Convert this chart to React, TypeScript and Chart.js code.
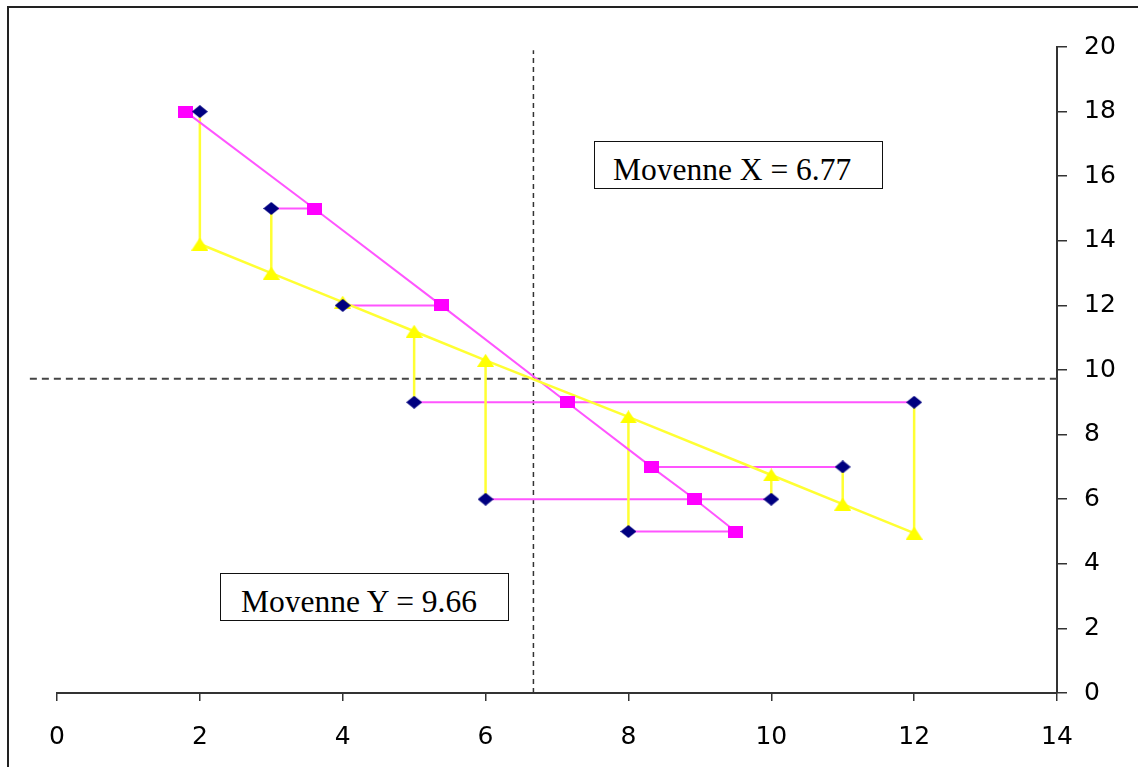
import React, { useEffect, useRef } from "react";
import { Chart, registerables } from "chart.js";

Chart.register(...registerables);

// Observed points
const X_VALUES = [2, 3, 4, 5, 6, 8, 10, 11, 12];
const Y_VALUES = [18, 15, 12, 9, 6, 5, 6, 7, 9];
// Fitted Y (regression of Y on X) at each x
const Y_FIT = [13.9, 13.0, 12.1, 11.2, 10.3, 8.55, 6.75, 5.85, 4.95];
// Fitted X (regression of X on Y) at each point's y
const X_FIT = [1.8, 3.6, 5.38, 7.14, 8.93, 9.5, 8.93, 8.32, 7.14];

// Mean lines (positions as drawn in the picture)
const MEAN_X_POS = 6.67;
const MEAN_Y_POS = 9.73;
const MEAN_X_LABEL = "Moyenne X = 6.77";
const MEAN_Y_LABEL = "Moyenne Y = 9.66";

const X_TICKS = [0, 2, 4, 6, 8, 10, 12, 14];
const Y_TICKS = [0, 2, 4, 6, 8, 10, 12, 14, 16, 18, 20];

function makeMarker(w: number, h: number, color: string, shape: string) {
  const c = document.createElement("canvas");
  c.width = w;
  c.height = h;
  const ctx = c.getContext("2d")!;
  ctx.fillStyle = color;
  ctx.beginPath();
  if (shape === "diamond") {
    ctx.moveTo(w / 2, 0);
    ctx.lineTo(w, h / 2);
    ctx.lineTo(w / 2, h);
    ctx.lineTo(0, h / 2);
  } else if (shape === "triangle") {
    ctx.moveTo(w / 2, 0);
    ctx.lineTo(w, h);
    ctx.lineTo(0, h);
  } else {
    ctx.rect(0, 0, w, h);
  }
  ctx.closePath();
  ctx.fill();
  return c;
}

export default function App() {
  const ref = useRef<HTMLCanvasElement | null>(null);

  useEffect(() => {
    if (!ref.current) return;
    const diamond = makeMarker(16, 13, "#000080", "diamond");
    const square = makeMarker(15, 12, "#ff00ff", "square");
    const triangle = makeMarker(17, 13, "#ffff00", "triangle");

    const points = X_VALUES.map((x, i) => ({ x, y: Y_VALUES[i] }));
    const yFitPts = X_VALUES.map((x, i) => ({ x, y: Y_FIT[i] }));
    const xFitPts = X_FIT.map((x, i) => ({ x, y: Y_VALUES[i] }));
    const seen = new Set<string>();
    const xFitLine = xFitPts
      .filter((p) => {
        const k = p.x + "_" + p.y;
        if (seen.has(k)) return false;
        seen.add(k);
        return true;
      })
      .sort((a, b) => b.y - a.y);

    const segBase = {
      showLine: true,
      pointRadius: 0,
      fill: false,
    };

    const yellowSegs = X_VALUES.map((x, i) => ({
      ...segBase,
      data: [
        { x, y: Y_VALUES[i] },
        { x, y: Y_FIT[i] },
      ],
      borderColor: "#ffff33",
      borderWidth: 2.5,
      order: 4,
    }));
    const magentaSegs = X_VALUES.map((x, i) => ({
      ...segBase,
      data: [
        { x, y: Y_VALUES[i] },
        { x: X_FIT[i], y: Y_VALUES[i] },
      ],
      borderColor: "#ff55ff",
      borderWidth: 2,
      order: 4,
    }));

    const chart = new Chart(ref.current, {
      type: "scatter",
      data: {
        datasets: [
          {
            data: points,
            pointStyle: diamond as any,
            pointRadius: 7,
            showLine: false,
            order: 0,
          },
          {
            data: xFitPts,
            pointStyle: square as any,
            pointRadius: 7,
            showLine: false,
            order: 1,
          },
          {
            data: yFitPts,
            pointStyle: triangle as any,
            pointRadius: 7,
            showLine: false,
            order: 1,
          },
          {
            ...segBase,
            data: yFitPts,
            borderColor: "#ffff33",
            borderWidth: 2.5,
            order: 3,
          },
          {
            ...segBase,
            data: xFitLine,
            borderColor: "#ff55ff",
            borderWidth: 2,
            order: 3,
          },
          ...yellowSegs,
          ...magentaSegs,
          {
            ...segBase,
            data: [
              { x: MEAN_X_POS, y: 0 },
              { x: MEAN_X_POS, y: 19.9 },
            ],
            borderColor: "#333",
            borderWidth: 1.5,
            borderDash: [5, 4],
            clip: false as any,
            order: 5,
          },
          {
            ...segBase,
            data: [
              { x: -0.38, y: MEAN_Y_POS },
              { x: 14, y: MEAN_Y_POS },
            ],
            borderColor: "#444",
            borderWidth: 2,
            borderDash: [7, 5],
            clip: false as any,
            order: 5,
          },
        ] as any,
      },
      options: {
        responsive: false,
        animation: false,
        events: [],
        layout: { padding: { left: 57, top: 47, right: 0, bottom: 0 } },
        plugins: {
          legend: { display: false },
          tooltip: { enabled: false },
        },
        scales: {
          x: {
            type: "linear",
            position: "bottom",
            min: 0,
            max: 14,
            afterFit: (s: any) => {
              s.height = 74;
            },
            afterBuildTicks: (s: any) => {
              s.ticks = X_TICKS.map((v) => ({ value: v }));
            },
            ticks: {
              color: "#000",
              font: { family: "DejaVu Sans", size: 25 },
              padding: 21,
              maxRotation: 0,
              autoSkip: false,
            },
            grid: {
              display: true,
              drawOnChartArea: false,
              drawTicks: true,
              tickLength: 8,
              color: "#333",
              lineWidth: 1.5,
            },
            border: { display: true, color: "#333", width: 2 },
          },
          y: {
            type: "linear",
            position: "right",
            min: 0,
            max: 20,
            afterFit: (s: any) => {
              s.width = 81;
            },
            afterBuildTicks: (s: any) => {
              s.ticks = Y_TICKS.map((v) => ({ value: v }));
            },
            ticks: {
              color: "#000",
              font: { family: "DejaVu Sans", size: 25 },
              padding: 17,
              autoSkip: false,
            },
            grid: {
              display: true,
              drawOnChartArea: false,
              drawTicks: true,
              tickLength: 10,
              color: "#333",
              lineWidth: 1.5,
            },
            border: { display: true, color: "#333", width: 2 },
          },
        },
      } as any,
    });
    return () => chart.destroy();
  }, []);

  const boxStyle = (left: number, top: number, w: number, h: number): React.CSSProperties => ({
    position: "absolute",
    left,
    top,
    width: w,
    height: h,
    boxSizing: "border-box",
    border: "1px solid #111",
    background: "#fff",
  });
  const textFont: React.CSSProperties = {
    fontFamily: "'Liberation Serif', 'Times New Roman', serif",
    fontSize: 31.5,
    lineHeight: "31px",
    whiteSpace: "nowrap",
    color: "#000",
    position: "absolute",
  };

  return (
    <div
      style={{
        position: "fixed",
        left: 0,
        top: 0,
        width: 1138,
        height: 767,
        overflow: "hidden",
        background: "#fff",
      }}
    >
      <div
        style={{
          position: "absolute",
          left: 7,
          top: 6,
          width: 1140,
          height: 770,
          borderTop: "2px solid #222",
          borderLeft: "2px solid #222",
        }}
      />
      <canvas
        ref={ref}
        width={1138}
        height={767}
        style={{ position: "absolute", left: 0, top: 0, width: 1138, height: 767 }}
      />
      <div style={boxStyle(594, 141, 289, 48)}>
        <div style={{ position: "absolute", left: 0, top: 0, right: 0, height: 38, overflow: "hidden" }}>
          <div style={{ ...textFont, left: 18, top: 11.5 }}>{MEAN_X_LABEL}</div>
        </div>
      </div>
      <div style={boxStyle(220, 573, 289, 48)}>
        <div style={{ position: "absolute", left: 0, top: 0, right: 0, height: 37.5, overflow: "hidden" }}>
          <div style={{ ...textFont, left: 20, top: 12 }}>{MEAN_Y_LABEL}</div>
        </div>
      </div>
    </div>
  );
}
